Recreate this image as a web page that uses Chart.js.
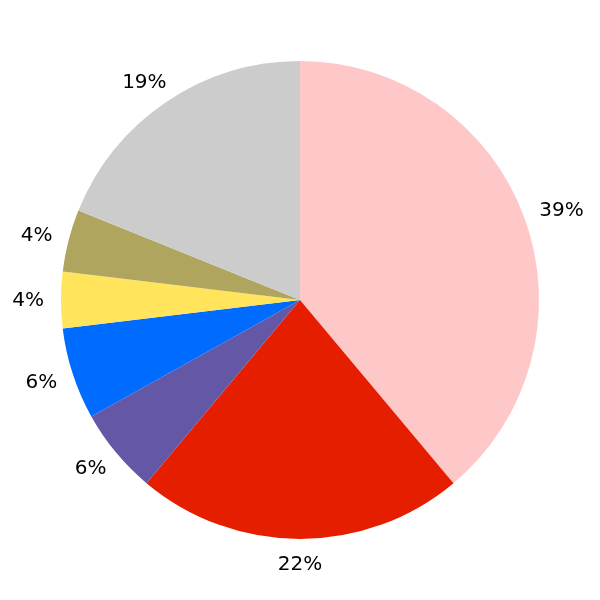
<!DOCTYPE html>
<html>
<head>
<meta charset="utf-8">
<script src="https://cdn.jsdelivr.net/npm/chart.js@4"></script>
<style>
    html, body { margin: 0; padding: 0; background: #ffffff; }
    #pie { display: block; }
</style>
</head>
<body>
<canvas id="pie" width="600" height="600"></canvas>
<script>
// 조각 데이터 (12시 방향부터 시계방향)
const sliceNames = ['A', 'B', 'C', 'D', 'E', 'F', 'G'];
const sliceValues = [38.9, 22.2, 5.8, 6.2, 3.8, 4.2, 18.9];
const sliceColors = ['#ffc8c8', '#e61e00', '#6457a6', '#006cff', '#ffe45c', '#b0a55f', '#cccccc'];

// 조각 바깥쪽에 퍼센트 표시 (글자 상자가 원 바깥쪽으로 붙도록)
const outsideLabels = {
    id: 'outsideLabels',
    afterDatasetsDraw(chart) {
        const ctx = chart.ctx;
        const meta = chart.getDatasetMeta(0);
        const total = sliceValues.reduce((a, b) => a + b, 0);
        ctx.save();
        ctx.font = '20px "DejaVu Sans"';
        ctx.fillStyle = '#000000';
        ctx.textAlign = 'center';
        ctx.textBaseline = 'middle';
        meta.data.forEach(function (arc, i) {
            const p = arc.getProps(['x', 'y', 'startAngle', 'endAngle', 'outerRadius'], true);
            const mid = (p.startAngle + p.endAngle) / 2;
            const r = p.outerRadius * 1.071;
            const pct = Math.round(sliceValues[i] / total * 100) + '%';
            const w = ctx.measureText(pct).width;
            const h = 15;
            const cx = p.x + Math.cos(mid) * (r + w / 2);
            const cy = p.y + Math.sin(mid) * (r + h / 2);
            ctx.fillText(pct, cx, cy + 1);
        });
        ctx.restore();
    }
};

new Chart(document.getElementById('pie'), {
    type: 'pie',
    data: {
        labels: sliceNames,
        datasets: [{
            data: sliceValues,
            backgroundColor: sliceColors,
            borderWidth: 0
        }]
    },
    options: {
        responsive: false,
        animation: false,
        layout: { padding: 61 },
        plugins: {
            legend: { display: false },
            tooltip: { enabled: false }
        }
    },
    plugins: [outsideLabels]
});
</script>
</body>
</html>
